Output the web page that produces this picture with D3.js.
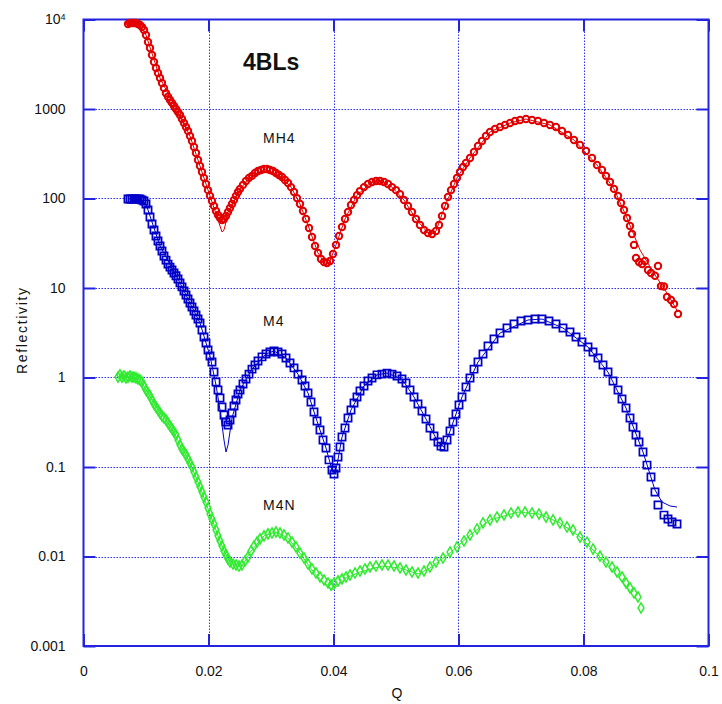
<!DOCTYPE html>
<html>
<head>
<meta charset="utf-8">
<script src="https://cdn.jsdelivr.net/npm/d3@7"></script>
<style>
  html, body { margin: 0; padding: 0; background: #fff; }
  svg { display: block; font-family: "Liberation Sans", Arial, sans-serif; }
</style>
</head>
<body>
<svg id="chart" width="722" height="704"></svg>
<script>
// Neutron reflectivity of the 4BLs samples: measured points and fitted curves

const xTickValues = [0, 0.02, 0.04, 0.06, 0.08, 0.1];
const xTickLabels = ["0", "0.02", "0.04", "0.06", "0.08", "0.1"];
const yTickValues = [0.001, 0.01, 0.1, 1, 10, 100, 1000, 10000];
const yTickLabels = ["0.001", "0.01", "0.1", "1", "10", "100", "1000", "10^4"];

// MH4 — measured
const qMH4 = [0.00712,0.00744,0.00776,0.00808,0.00840,0.00872,0.00904,0.00936,0.00968,0.01000,0.01032,0.01064,0.01096,0.01128,0.01160,0.01192,0.01224,0.01256,0.01288,0.01320,0.01352,0.01384,0.01416,0.01448,0.01480,0.01512,0.01544,0.01576,0.01608,0.01640,0.01672,0.01704,0.01736,0.01768,0.01800,0.01832,0.01864,0.01896,0.01928,0.01960,0.01992,0.02024,0.02056,0.02088,0.02120,0.02152,0.02184,0.02216,0.02248,0.02280,0.02312,0.02344,0.02376,0.02408,0.02440,0.02472,0.02504,
  0.02552,0.02600,0.02648,0.02696,0.02744,0.02792,0.02840,0.02888,0.02936,0.02984,0.03032,0.03080,0.03128,0.03176,0.03224,0.03272,0.03320,0.03368,0.03416,0.03464,0.03512,0.03560,0.03608,0.03656,0.03704,0.03752,0.03800,0.03848,0.03896,0.03944,0.03992,0.04040,0.04088,0.04136,0.04184,0.04232,0.04280,0.04328,0.04376,0.04424,
  0.04488,0.04552,0.04616,0.04680,0.04744,0.04808,0.04872,0.04936,0.05000,0.05064,0.05128,0.05192,0.05256,0.05320,0.05384,0.05448,0.05512,0.05576,0.05640,
  0.05688,0.05736,0.05784,0.05832,0.05880,0.05928,0.05976,0.06024,0.06072,0.06120,
  0.06184,0.06248,0.06312,0.06376,0.06440,0.06504,
  0.06584,0.06664,0.06744,0.06824,0.06904,0.06984,
  0.07080,0.07176,0.07272,0.07368,0.07464,0.07560,0.07656,0.07752,0.07848,0.07944,0.08040,0.08136,
  0.08216,0.08296,0.08360,0.08424,0.08488,0.08552,0.08600,0.08648,0.08696,0.08744,0.08776,0.08808,0.08840,
  0.08888,0.08936,0.08984,0.09032,0.09080,0.09144,0.09192,0.09240,0.09288,0.09336,0.09400,0.09448,0.09512];
const rMH4 = [8910,9140,9140,9140,9140,8910,8680,8240,7630,6710,5610,4800,4010,3350,2870,2520,2220,1950,1710,1500,1370,1260,1170,1080,1000,926,857,773,698,629,568,499,439,376,322,269,231,198,170,145,124,107,93.8,82.4,72.5,65.4,60.6,57.5,59.0,63.8,70.7,78.3,86.8,96.2,107,118,128,
  142,157,170,179,193,203,208,214,214,208,203,193,183,174,161,149,134,118,101,86.8,72.5,59.0,46.8,37.1,29.5,24.6,21.1,19.5,19.0,20.0,24.0,30.3,38.1,48.0,59.0,70.7,84.6,96.2,109,121,
  134,145,153,157,157,153,145,134,124,112,96.2,82.4,70.7,59.0,50.6,44.5,41.2,40.1,43.4,
  50.6,63.8,82.4,104,124,145,170,198,225,249,
  284,331,386,439,499,553,
  598,629,663,698,735,754,
  773,754,735,698,663,629,568,512,450,396,339,284,
  237,208,179,153,128,107,89.1,74.4,60.6,49.3,40.1,30.3,21.6,
  19.5,18.5,20.0,15.9,14.7,13.7,17.6,10.5,10.4,7.93,7.35,6.63,5.12];

// MH4 — fit
const qMH4Fit = [0.00712,0.00904,0.01000,0.01224,0.01480,0.01704,0.01864,0.02024,0.02120,0.02184,0.02216,0.02248,0.02280,0.02344,0.02504,0.02696,0.02904,0.03144,0.03320,0.03464,0.03608,0.03752,0.03848,0.03896,0.03944,0.04040,0.04184,0.04376,0.04616,0.04744,0.04936,0.05128,0.05320,0.05512,0.05576,0.05640,0.05784,0.05976,0.06184,0.06504,0.06824,0.07080,0.07464,0.07848,0.08216,0.08488,0.08696,0.08904,0.09144,0.09336,0.09512];
const rMH4Fit = [8910,8680,6710,2220,1000,499,231,107,67.1,49.3,42.3,44.5,54.6,74.4,128,179,214,179,134,86.8,46.8,24.6,19.5,18.5,20.0,30.3,59.0,109,153,157,134,96.2,59.0,41.2,40.1,43.4,82.4,170,284,553,698,773,663,450,237,128,60.6,26.6,14.0,8.79,5.39];

// M4 — measured
const qM4 = [0.00712,0.00744,0.00776,0.00808,0.00840,0.00872,0.00904,0.00936,0.00968,0.01000,0.01032,0.01064,0.01096,0.01128,0.01160,0.01192,0.01224,0.01256,0.01288,0.01320,0.01352,0.01384,0.01416,0.01448,0.01480,0.01512,0.01544,0.01576,0.01608,0.01640,0.01672,0.01704,0.01736,0.01768,0.01800,0.01832,0.01864,0.01896,0.01928,0.01960,0.01992,0.02024,0.02056,0.02088,0.02120,0.02152,0.02184,0.02216,0.02248,0.02280,0.02312,0.02344,0.02376,0.02408,0.02440,0.02472,0.02504,
  0.02552,0.02600,0.02648,0.02696,0.02744,0.02792,
  0.02856,0.02920,0.02984,0.03048,0.03112,0.03176,0.03240,0.03304,0.03368,0.03432,0.03496,
  0.03544,0.03592,0.03640,0.03688,0.03736,0.03784,0.03832,0.03880,0.03928,0.03976,
  0.04008,0.04040,0.04072,0.04104,0.04136,
  0.04184,0.04232,0.04280,0.04328,0.04376,0.04424,
  0.04488,0.04552,0.04616,
  0.04696,0.04776,0.04856,0.04936,0.05016,0.05096,
  0.05160,0.05224,0.05288,0.05352,0.05416,0.05480,0.05544,0.05608,0.05672,
  0.05720,0.05768,0.05816,0.05864,0.05912,0.05960,0.06008,0.06056,
  0.06120,0.06184,0.06248,0.06312,
  0.06392,0.06472,0.06568,0.06664,
  0.06776,0.06888,0.07000,0.07112,0.07224,0.07336,0.07448,0.07560,0.07672,0.07784,
  0.07880,0.07976,0.08072,0.08152,0.08232,0.08312,0.08392,0.08472,0.08552,0.08616,0.08680,0.08744,0.08792,0.08840,0.08888,0.08952,0.09016,0.09080,0.09144,0.09192,0.09288,0.09352,0.09416,0.09496];
const rM4 = [98.9,98.9,98.9,98.9,98.9,98.9,98.9,96.2,93.8,86.8,74.4,62.1,51.9,44.5,38.1,33.5,29.5,25.9,22.8,20.5,18.5,17.1,15.9,14.7,13.7,12.6,11.4,10.3,9.26,8.35,7.54,6.80,6.13,5.53,4.99,4.50,4.06,3.39,2.84,2.43,2.03,1.74,1.49,1.15,0.891,0.725,0.590,0.468,0.381,0.318,0.295,0.335,0.401,0.480,0.561,0.654,0.725,
  0.846,0.962,1.09,1.24,1.38,1.53,
  1.70,1.83,1.93,1.98,1.93,1.83,1.65,1.45,1.28,1.09,0.938,
  0.803,0.671,0.533,0.412,0.326,0.259,0.200,0.163,0.120,0.0926,
  0.0835,0.0974,0.129,0.167,0.216,
  0.273,0.353,0.434,0.519,0.606,0.707,
  0.803,0.914,0.989,
  1.07,1.09,1.12,1.09,1.04,0.962,
  0.868,0.725,0.606,0.506,0.423,0.344,0.273,0.222,0.190,
  0.171,0.167,0.200,0.252,0.318,0.391,0.493,0.606,
  0.783,0.989,1.24,1.49,
  1.83,2.25,2.69,3.14,
  3.57,3.96,4.28,4.39,4.50,4.50,4.28,3.96,3.57,3.22,
  2.84,2.49,2.19,1.93,1.65,1.38,1.15,0.914,0.725,0.575,0.456,0.353,0.280,0.228,0.190,0.147,0.105,0.0773,0.0526,0.0376,0.0290,0.0262,0.0243,0.0231];

// M4 — fit
const qM4Fit = [0.00712,0.00904,0.01000,0.01224,0.01544,0.01864,0.02024,0.02120,0.02184,0.02248,0.02280,0.02312,0.02376,0.02504,0.02696,0.02920,0.03048,0.03240,0.03432,0.03592,0.03736,0.03880,0.03976,0.04008,0.04056,0.04136,0.04280,0.04488,0.04696,0.04856,0.05096,0.05288,0.05480,0.05672,0.05768,0.05864,0.06056,0.06312,0.06664,0.07112,0.07336,0.07672,0.08072,0.08392,0.08680,0.08952,0.09144,0.09256,0.09384,0.09496];
const rM4Fit = [98.9,98.9,86.8,29.5,11.4,4.06,1.74,0.824,0.434,0.200,0.147,0.176,0.353,0.725,1.24,1.83,1.98,1.65,1.09,0.671,0.326,0.163,0.0926,0.0835,0.105,0.216,0.434,0.803,1.07,1.12,0.962,0.606,0.344,0.190,0.167,0.252,0.606,1.49,3.14,4.39,4.50,3.57,2.19,1.15,0.456,0.147,0.0553,0.0406,0.0367,0.0357];

// M4N — measured
const qM4N = [0.00552,0.00584,0.00616,0.00648,0.00680,0.00712,0.00744,0.00776,0.00808,0.00840,0.00872,0.00904,0.00936,0.00968,0.01000,0.01032,0.01064,0.01096,0.01128,0.01160,0.01192,0.01224,0.01256,0.01288,0.01320,0.01352,0.01384,0.01416,0.01448,0.01480,0.01512,0.01544,0.01576,0.01608,0.01640,0.01672,0.01704,0.01736,0.01768,0.01800,0.01832,0.01864,0.01896,0.01928,0.01960,0.01992,0.02024,0.02056,0.02088,0.02120,0.02152,0.02184,0.02216,0.02248,0.02280,0.02312,0.02344,
  0.02392,0.02440,0.02488,0.02536,0.02584,0.02632,0.02680,0.02728,0.02776,0.02824,
  0.02888,0.02952,0.03016,0.03080,0.03144,0.03208,0.03272,0.03336,0.03400,0.03464,0.03528,0.03592,0.03656,0.03720,0.03784,0.03848,0.03912,
  0.03960,0.04008,0.04072,0.04136,0.04200,0.04264,
  0.04344,0.04424,0.04504,0.04584,
  0.04680,0.04776,0.04872,0.04968,0.05064,0.05160,0.05256,0.05352,0.05448,0.05544,0.05640,
  0.05752,0.05864,0.05976,0.06088,
  0.06184,0.06296,0.06392,0.06504,0.06616,0.06728,0.06840,0.06952,0.07064,0.07176,0.07288,0.07400,0.07512,0.07624,0.07736,0.07832,0.07944,0.08056,0.08152,0.08264,0.08360,0.08456,0.08536,0.08616,0.08680,0.08744,0.08808,0.08872,0.08920];
const rM4N = [1.01,1.07,1.01,1.04,0.989,1.01,1.04,1.01,1.01,0.989,0.962,0.938,0.891,0.803,0.725,0.671,0.621,0.561,0.506,0.468,0.434,0.401,0.371,0.353,0.335,0.310,0.287,0.266,0.246,0.228,0.200,0.176,0.159,0.147,0.137,0.123,0.111,0.100,0.0879,0.0773,0.0680,0.0598,0.0526,0.0462,0.0406,0.0348,0.0298,0.0262,0.0231,0.0198,0.0170,0.0149,0.0131,0.0115,0.0104,0.00938,0.00868,
  0.00824,0.00803,0.00783,0.00803,0.00891,0.00989,0.0115,0.0131,0.0145,0.0157,
  0.0170,0.0179,0.0183,0.0188,0.0183,0.0174,0.0161,0.0145,0.0128,0.0109,0.00962,0.00824,0.00725,0.00654,0.00590,0.00546,0.00506,
  0.00480,0.00506,0.00533,0.00561,0.00590,0.00621,
  0.00654,0.00689,0.00725,0.00763,
  0.00783,0.00803,0.00803,0.00783,0.00744,0.00707,0.00671,0.00654,0.00689,0.00763,0.00868,
  0.00962,0.0112,0.0128,0.0149,
  0.0174,0.0203,0.0237,0.0256,0.0276,0.0291,0.0306,0.0314,0.0314,0.0306,0.0298,0.0276,0.0256,0.0237,0.0214,0.0198,0.0165,0.0145,0.0121,0.0101,0.00868,0.00763,0.00671,0.00590,0.00506,0.00445,0.00391,0.00353,0.00266];

// M4N — fit
const qM4NFit = [0.00584,0.00904,0.01064,0.01384,0.01704,0.01864,0.02024,0.02184,0.02312,0.02440,0.02536,0.02680,0.02888,0.03080,0.03272,0.03464,0.03656,0.03848,0.03992,0.04072,0.04200,0.04424,0.04776,0.05064,0.05352,0.05544,0.05864,0.06184,0.06504,0.06952,0.07288,0.07624,0.07944,0.08264,0.08504,0.08744];
const rM4NFit = [1.04,0.938,0.621,0.287,0.111,0.0598,0.0298,0.0149,0.00938,0.00783,0.00783,0.0115,0.0170,0.0188,0.0161,0.0109,0.00707,0.00493,0.00423,0.00480,0.00575,0.00671,0.00783,0.00744,0.00638,0.00744,0.0109,0.0174,0.0256,0.0314,0.0298,0.0237,0.0165,0.00989,0.00654,0.00412];

const seriesNames = ["MH4", "M4", "M4N"];
const seriesColors = ["#e20000", "#0000c8", "#30ea30"];

const svg = d3.select("#chart");
const plotLeft = 83.5, plotRight = 708.5, plotTop = 19.5, plotBottom = 646;
const axisBlue = "#2424e0";

const x = d3.scaleLinear().domain([0, 0.1]).range([plotLeft, plotRight]);
const y = d3.scaleLog().domain([0.001, 10000]).range([plotBottom, plotTop]);

// dotted grid
const grid = svg.append("g").attr("stroke", "#3030f0").attr("stroke-width", 1)
  .attr("stroke-dasharray", "1.5,1.5");
grid.selectAll("line.vx").data(xTickValues.slice(1, -1)).join("line")
  .attr("x1", d => Math.round(x(d)) + 0.5).attr("x2", d => Math.round(x(d)) + 0.5)
  .attr("y1", plotTop).attr("y2", plotBottom);
grid.selectAll("line.hy").data(yTickValues.slice(1, -1)).join("line")
  .attr("x1", plotLeft).attr("x2", plotRight)
  .attr("y1", d => Math.round(y(d)) + 0.5).attr("y2", d => Math.round(y(d)) + 0.5);

// axes with inward ticks
function styleAxis(g) {
  g.select(".domain").remove();
  g.selectAll(".tick line").attr("stroke", axisBlue).attr("stroke-width", 2);
  g.selectAll(".tick text").attr("fill", "#111").attr("font-size", 14);
}

svg.append("g").attr("transform", `translate(0,${plotBottom})`)
  .call(d3.axisBottom(x).tickValues(xTickValues).tickSize(-12).tickPadding(20)
    .tickFormat((d, i) => xTickLabels[i]))
  .call(styleAxis);

const gy = svg.append("g").attr("transform", `translate(${plotLeft},0)`)
  .call(d3.axisLeft(y).tickValues(yTickValues).tickSize(-12).tickPadding(18)
    .tickFormat((d, i) => yTickLabels[i]))
  .call(styleAxis);

// superscript exponent on the top label
gy.selectAll(".tick text").filter(d => d === 10000).each(function () {
  const t = d3.select(this);
  const parts = t.text().split("^");
  t.text(parts[0]);
  t.append("tspan").attr("dy", "-0.55em").attr("font-size", 9).text(parts[1]);
});

svg.append("g").attr("transform", `translate(0,${plotTop})`)
  .call(d3.axisTop(x).tickValues(xTickValues).tickSize(-12).tickFormat(""))
  .call(styleAxis);
svg.append("g").attr("transform", `translate(${plotRight},0)`)
  .call(d3.axisRight(y).tickValues(yTickValues).tickSize(-12).tickFormat(""))
  .call(styleAxis);

// frame
svg.append("rect").attr("x", plotLeft).attr("y", plotTop)
  .attr("width", plotRight - plotLeft).attr("height", plotBottom - plotTop)
  .attr("fill", "none").attr("stroke", axisBlue).attr("stroke-width", 2);

// data
const measured = [
  { q: qMH4, r: rMH4, qf: qMH4Fit, rf: rMH4Fit },
  { q: qM4, r: rM4, qf: qM4Fit, rf: rM4Fit },
  { q: qM4N, r: rM4N, qf: qM4NFit, rf: rM4NFit }
];

const line = d3.line().x(d => x(d[0])).y(d => y(d[1]));
const plot = svg.append("g");

measured.forEach((s, k) => {
  const color = seriesColors[k];
  const pts = d3.zip(s.q, s.r);
  const fit = d3.zip(s.qf, s.rf);
  const g = plot.append("g").attr("class", seriesNames[k]);

  g.append("path").datum(fit).attr("d", line)
    .attr("fill", "none").attr("stroke", color).attr("stroke-width", 1);

  if (k === 0) {
    g.selectAll("circle").data(pts).join("circle")
      .attr("cx", d => x(d[0])).attr("cy", d => y(d[1])).attr("r", 3.2)
      .attr("fill", "none").attr("stroke", color).attr("stroke-width", 2);
  } else if (k === 1) {
    const sq = d3.symbol().type(d3.symbolSquare).size(52);
    g.selectAll("path.pt").data(pts).join("path").attr("class", "pt")
      .attr("d", sq).attr("transform", d => `translate(${x(d[0])},${y(d[1])})`)
      .attr("fill", "none").attr("stroke", color).attr("stroke-width", 1.7);
  } else {
    const dm = d3.symbol().type(d3.symbolDiamond).size(30);
    g.selectAll("path.pt").data(pts).join("path").attr("class", "pt")
      .attr("d", dm).attr("transform", d => `translate(${x(d[0])},${y(d[1])})`)
      .attr("fill", "none").attr("stroke", color).attr("stroke-width", 1.5);
  }
});

// annotations
svg.append("text").attr("x", 243).attr("y", 70)
  .attr("font-size", 23).attr("font-weight", "bold").attr("fill", "#111").text("4BLs");
const labelPos = [[263, 143], [263, 326], [263, 510]];
seriesNames.forEach((n, i) => {
  svg.append("text").attr("x", labelPos[i][0]).attr("y", labelPos[i][1])
    .attr("font-size", 14).attr("letter-spacing", 1).attr("fill", "#111").text(n);
});

// axis titles
svg.append("text").attr("x", 397).attr("y", 698).attr("text-anchor", "middle")
  .attr("font-size", 14).attr("fill", "#111").text("Q");
svg.append("text").attr("transform", "translate(27,331) rotate(-90)")
  .attr("text-anchor", "middle").attr("font-size", 14).attr("fill", "#111")
  .attr("textLength", 86).attr("lengthAdjust", "spacing").text("Reflectivity");
</script>
</body>
</html>
